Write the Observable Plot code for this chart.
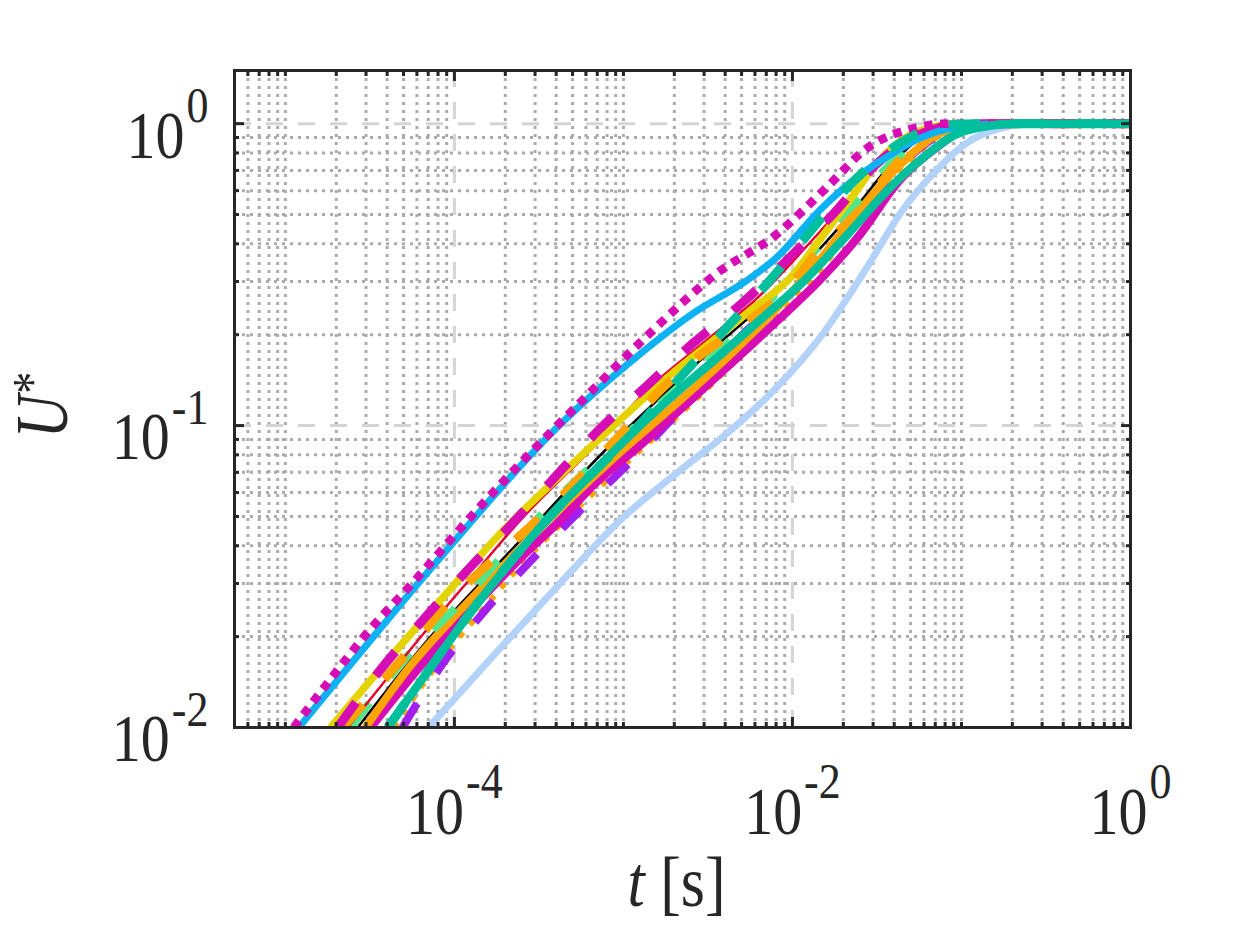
<!DOCTYPE html>
<html><head><meta charset="utf-8">
<script src="https://cdn.jsdelivr.net/npm/d3@7"></script>
<script src="https://cdn.jsdelivr.net/npm/@observablehq/plot@0.6"></script>
<style>html,body{margin:0;padding:0;background:#fff;}#chart{width:1250px;height:938px;}</style>
</head><body><div id="chart"></div>
<script>
// ---- data: [t (s), U*] ----
const magentaDotted = [[1.12e-5,0.01],[1.93e-5,0.0149],[2.90e-5,0.0199],[6.05e-5,0.0314],[1.24e-4,0.0496],[2.55e-4,0.0766],[5.53e-4,0.119],[1.43e-3,0.202],[3.56e-3,0.319],[8.05e-3,0.430],[0.0159,0.614],[0.0274,0.827],[0.054,0.97],[0.0767,1.0],[1,1]];
const blueSolid = [[1.20e-5,0.01],[8.27e-5,0.0366],[4.22e-4,0.1008],[1.05e-3,0.159],[2.57e-3,0.235],[5.35e-3,0.302],[8.05e-3,0.360],[0.0144,0.515],[0.0248,0.673],[0.0373,0.783],[0.0561,0.892],[0.0966,0.977],[0.166,1],[1,1]];
const yellowSolid = [[1.85e-5,0.01],[4.80e-5,0.0187],[9.87e-5,0.0295],[1.87e-4,0.0439],[4.22e-4,0.0683],[1.05e-3,0.1096],[1.88e-3,0.1465],[3.56e-3,0.1955],[5.35e-3,0.235],[0.01,0.314],[0.0144,0.41],[0.0217,0.556],[0.0326,0.754],[0.049,0.913],[0.0844,0.992],[0.145,1],[1,1]];
const magentaDashed = [[2.04e-5,0.01],[3.81e-5,0.016],[6.47e-5,0.0226],[1.19e-4,0.0331],[2.20e-4,0.0474],[3.68e-4,0.0648],[7.08e-4,0.0962],[1.34e-3,0.1336],[2.57e-3,0.187],[5.0e-3,0.2535],[9.6e-3,0.360],[0.0177,0.507],[0.0317,0.738],[0.0643,0.948],[0.111,1],[1,1]];
const orangeDashed = [[2.18e-5,0.01],[4.80e-5,0.01667],[9.47e-5,0.0264],[1.87e-4,0.0377],[3.21e-4,0.0496],[8.91e-4,0.0892],[1.58e-3,0.1277],[2.83e-3,0.1706],[4.87e-3,0.211],[0.0103,0.302],[0.0135,0.366],[0.0248,0.515],[0.0458,0.783],[0.0789,0.948],[0.145,1],[1,1]];
const greenDashed = [[2.43e-5,0.01],[5.5e-5,0.0177],[1.08e-4,0.0258],[2.06e-4,0.0386],[4.22e-4,0.0586],[9.53e-4,0.0892],[2.16e-3,0.1356],[4.87e-3,0.206],[0.011,0.331],[0.0217,0.515],[0.0428,0.783],[0.0844,0.977],[0.166,1],[1,1]];
const blackThin = [[2.68e-5,0.01],[7.52e-5,0.0205],[1.29e-4,0.0284],[2.45e-4,0.0416],[7.27e-4,0.0796],[2.83e-3,0.164],[0.011,0.326],[0.0217,0.496],[0.0428,0.783],[0.0844,0.985],[0.166,1],[1,1]];
const redThin = [[2.34e-5,0.01],[7.22e-5,0.0218],[1.24e-4,0.0311],[2.45e-4,0.0485],[7.27e-4,0.0892],[1.43e-3,0.1336],[2.83e-3,0.184],[6.39e-3,0.269],[0.0144,0.436],[0.0326,0.726],[0.0736,0.962],[0.145,1],[1,1]];
const tealSolid = [[4.03e-5,0.01],[7.22e-5,0.0158],[1.24e-4,0.024],[2.45e-4,0.0386],[4.22e-4,0.0543],[6.09e-4,0.0668],[1.09e-3,0.0927],[1.88e-3,0.123],[3.71e-3,0.1706],[6.39e-3,0.223],[0.0121,0.307],[0.0217,0.436],[0.0349,0.586],[0.0539,0.738],[0.106,0.948],[0.21,1],[1,1]];
const tealDashed = [[4.03e-5,0.01],[7.22e-5,0.0158],[1.24e-4,0.024],[2.45e-4,0.0386],[4.22e-4,0.0543],[6.09e-4,0.0668],[1.09e-3,0.0927],[2.16e-3,0.144],[4.08e-3,0.211],[7.52e-3,0.307],[0.0126,0.436],[0.0217,0.623],[0.0428,0.859],[0.0844,0.992],[0.166,1],[1,1]];
const magentaSolid = [[3.19e-5,0.01],[6.3e-5,0.016],[1.24e-4,0.0244],[2.45e-4,0.0363],[4.22e-4,0.0485],[6.61e-4,0.0633],[1.25e-3,0.0859],[2.37e-3,0.1183],[4.87e-3,0.1706],[8.38e-3,0.226],[0.0144,0.302],[0.0248,0.426],[0.0428,0.648],[0.0736,0.846],[0.106,0.962],[0.166,1],[1,1]];
const purpleDashed = [[4.93e-5,0.01],[8.61e-5,0.0164],[1.48e-4,0.024],[2.73e-4,0.0349],[5.53e-4,0.0523],[1.25e-3,0.0814],[2.83e-3,0.1336],[4.87e-3,0.1955],[0.011,0.291],[0.0197,0.419],[0.0317,0.578],[0.049,0.772],[0.0844,0.948],[0.145,1],[1,1]];
const orangeDotted = [[4.37e-5,0.01],[6.3e-5,0.01356],[9.47e-5,0.0184],[1.42e-4,0.024],[2.45e-4,0.0344],[5.53e-4,0.0543],[1.25e-3,0.0827],[2.83e-3,0.1257],[6.39e-3,0.1986],[0.0144,0.326],[0.0285,0.535],[0.049,0.754],[0.0844,0.948],[0.145,1],[1,1]];
const orangeSolid = [[2.98e-5,0.01],[5.5e-5,0.016],[1.08e-4,0.0244],[2.14e-4,0.0363],[4.22e-4,0.0531],[9.53e-4,0.0814],[2.16e-3,0.121],[4.87e-3,0.184],[8.38e-3,0.25],[0.0144,0.352],[0.0248,0.515],[0.0428,0.726],[0.0811,0.948],[0.145,1],[1,1]];
const lightBlueSolid = [[7.03e-5,0.01],[1.75e-4,0.0176],[4.22e-4,0.03],[9.53e-4,0.0485],[2.16e-3,0.071],[4.08e-3,0.0941],[8.05e-3,0.1336],[0.0144,0.194],[0.0273,0.331],[0.0446,0.515],[0.0707,0.699],[0.106,0.859],[0.166,0.962],[0.286,1],[1,1]];

const xDomain = [5e-6, 1];
const yDomain = [0.01, 1.5];
const xMajorTicks = [1e-4, 1e-2, 1];
const yMajorTicks = [0.01, 0.1, 1];
const xTitle = "t [s]";
const yTitle = "U*";

function minorTicks(domain, majors) {
  const out = [];
  for (let e = -6; e <= 0; e++) for (let k = 1; k <= 9; k++) {
    const v = k * Math.pow(10, e);
    if (v >= domain[0] * 0.9999 && v <= domain[1] * 1.0001 && !majors.some(m => Math.abs(m - v) / m < 1e-6)) out.push(v);
  }
  return out;
}
const xMinorTicks = minorTicks(xDomain, xMajorTicks);
const yMinorTicks = minorTicks(yDomain, yMajorTicks);

// drawing order (bottom -> top) and styles
const series = [
  {data: lightBlueSolid, stroke: "#b3d2fa", w: 7},
  {data: blackThin, stroke: "#000000", w: 2.5},
  {data: orangeDotted, stroke: "#ffa400", w: 6, dash: "6,10"},
  {data: purpleDashed, stroke: "#a21ff0", w: 8, dash: "28,36"},
  {data: magentaSolid, stroke: "#d60cb4", w: 8.5},
  {data: orangeSolid, stroke: "#ffa400", w: 8},
  {data: greenDashed, stroke: "#52e58c", w: 8, dash: "31,33"},
  {data: redThin, stroke: "#e8002d", w: 2.5},
  {data: yellowSolid, stroke: "#e5d300", w: 7.5},
  {data: orangeDashed, stroke: "#ffa400", w: 9, dash: "31,33"},
  {data: magentaDashed, stroke: "#d60cb4", w: 9, dash: "31,33"},
  {data: blueSolid, stroke: "#0db2f3", w: 7},
  {data: magentaDotted, stroke: "#d60cb4", w: 8.5, dash: "8.5,7.5"},
  {data: tealDashed, stroke: "#00bf9c", w: 9, dash: "31,33"},
  {data: tealSolid, stroke: "#00bf9c", w: 8.5}
];

const axisColor = "#262626";
const expFmt = d => String(Math.round(Math.log10(d)));
const noFmt = () => "";

const plot = Plot.plot({
  width: 1250, height: 938,
  marginLeft: 234, marginRight: 120, marginTop: 70, marginBottom: 211,
  x: {type: "log", domain: xDomain},
  y: {type: "log", domain: yDomain},
  style: {fontFamily: "'Liberation Serif','Times New Roman',serif", background: "#ffffff", color: axisColor},
  marks: [
    Plot.ruleX(xMinorTicks, {x: d => d, stroke: "#ababab", strokeWidth: 3, strokeDasharray: "3,5"}),
    Plot.ruleY(yMinorTicks, {y: d => d, stroke: "#ababab", strokeWidth: 3, strokeDasharray: "3,5"}),
    Plot.ruleX(xMajorTicks, {x: d => d, stroke: "#d4d4d4", strokeWidth: 3, strokeDasharray: "17,15"}),
    Plot.ruleY(yMajorTicks, {y: d => d, stroke: "#d4d4d4", strokeWidth: 3, strokeDasharray: "17,15"}),
    ...series.map(s => Plot.line(s.data, {
      x: d => d[0], y: d => d[1], stroke: s.stroke, strokeWidth: s.w,
      strokeDasharray: s.dash, strokeLinecap: "butt", strokeLinejoin: "round",
      curve: "monotone-x", clip: true
    })),
    Plot.frame({stroke: axisColor, strokeWidth: 3}),
    // inward ticks on all four sides
    Plot.axisX(xMajorTicks, {anchor: "bottom", tickSize: -10, tickFormat: noFmt, label: null, stroke: axisColor, strokeWidth: 3}),
    Plot.axisX(xMinorTicks, {anchor: "bottom", tickSize: -5, tickFormat: noFmt, label: null, stroke: axisColor, strokeWidth: 3}),
    Plot.axisX(xMajorTicks, {anchor: "top", tickSize: -10, tickFormat: noFmt, label: null, stroke: axisColor, strokeWidth: 3}),
    Plot.axisX(xMinorTicks, {anchor: "top", tickSize: -5, tickFormat: noFmt, label: null, stroke: axisColor, strokeWidth: 3}),
    Plot.axisY(yMajorTicks, {anchor: "left", tickSize: -10, tickFormat: noFmt, label: null, stroke: axisColor, strokeWidth: 3}),
    Plot.axisY(yMinorTicks, {anchor: "left", tickSize: -5, tickFormat: noFmt, label: null, stroke: axisColor, strokeWidth: 3}),
    Plot.axisY(yMajorTicks, {anchor: "right", tickSize: -10, tickFormat: noFmt, label: null, stroke: axisColor, strokeWidth: 3}),
    Plot.axisY(yMinorTicks, {anchor: "right", tickSize: -5, tickFormat: noFmt, label: null, stroke: axisColor, strokeWidth: 3}),
    // tick labels
    Plot.axisX(xMajorTicks, {anchor: "bottom", tickSize: 0, tickPadding: 61, fontSize: 58, tickFormat: expFmt, label: null}),
    Plot.axisY(yMajorTicks, {anchor: "left", tickSize: 0, tickPadding: 26, dy: 11, fontSize: 58, tickFormat: expFmt, label: null}),
    // axis titles
    Plot.text([xTitle], {text: d => d, frameAnchor: "bottom", dy: 175, dx: -6, lineAnchor: "bottom", textAnchor: "middle", fontSize: 62}),
    Plot.text([yTitle], {text: d => d, frameAnchor: "left", dx: -168, dy: 6, rotate: -90, lineAnchor: "bottom", textAnchor: "middle", fontSize: 60})
  ]
});

document.getElementById("chart").append(plot);

const NS = "http://www.w3.org/2000/svg";
function stretch(el, s) {
  const bb = el.getBBox();
  const cy = bb.y + bb.height / 2;
  const tr = el.getAttribute("transform") || "";
  el.setAttribute("transform", `${tr} translate(0,${cy}) scale(1,${s}) translate(0,${-cy})`);
}
function tspan(txt, attrs) {
  const t = document.createElementNS(NS, "tspan");
  t.textContent = txt;
  for (const k in attrs) t.setAttribute(k, attrs[k]);
  return t;
}
plot.querySelectorAll('[aria-label="x-axis tick label"] text, [aria-label="y-axis tick label"] text').forEach(el => {
  const e = el.textContent;
  if (!e) return;
  el.textContent = "";
  el.append(tspan("10", {}), tspan(e, {"font-size": 44, dy: -31, dx: 2}));
  stretch(el, 1.15);
});
const xt = [...plot.querySelectorAll("text")].filter(el => el.textContent === xTitle);
xt.forEach(el => {
  const s = el.textContent;
  const i = s.indexOf(" ");
  el.textContent = "";
  el.append(tspan(s.slice(0, i), {"font-style": "italic"}), tspan("\u00a0" + s.slice(i + 1), {}));
  stretch(el, 1.15);
});
const yt = [...plot.querySelectorAll("text")].filter(el => el.textContent === yTitle);
yt.forEach(el => {
  const s = el.textContent;
  el.textContent = "";
  el.append(tspan(s.slice(0, 1), {"font-style": "italic"}), tspan(s.slice(1), {"font-size": 44, dy: -13, dx: 1}));
  const tr = el.getAttribute("transform") || "";
  el.setAttribute("transform", `${tr} scale(1,1.25)`);
});
</script>
</body></html>
